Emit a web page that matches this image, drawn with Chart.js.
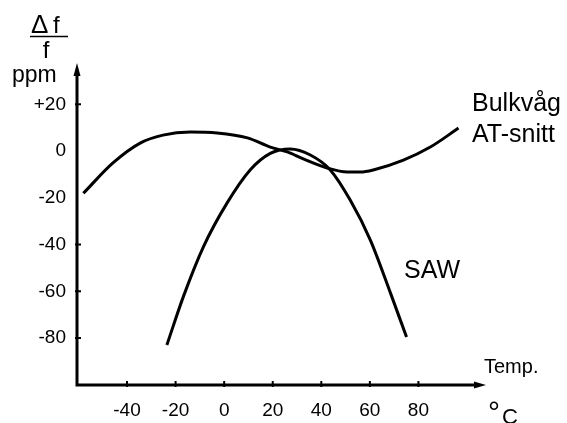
<!doctype html>
<html lang="sv">
<head>
<meta charset="utf-8">
<title>Temperaturberoende</title>
<style>
  * { margin: 0; padding: 0; }
  body { background: #fff; }
  canvas { display: block; }
</style>
</head>
<body>
<canvas id="myChart" width="567" height="423"></canvas>

<script src="https://cdn.jsdelivr.net/npm/chart.js"></script>
<script>
  // curve data (temp in °C, deviation in ppm)
  const bulkTemp = [-58, -45.8, -34.6, -25.2, -14, -2.9, 9.6, 19, 26, 32.6, 42.5, 50.7, 56.1, 61.4, 73.8, 84.9, 96.5]
  const bulkPpm = [-18.1, -5.1, 3.4, 6.8, 8.1, 7.7, 5.6, 1.7, -0.4, -3.4, -7.3, -9.0, -9.0, -8.1, -3.9, 1.7, 9.8]

  const sawTemp = [-23.6, -16.8, -8.5, 1.1, 10.7, 19, 27.2, 35.5, 43.7, 51.9, 60.2, 68.5, 75.1]
  const sawPpm = [-83, -62.3, -40.9, -22.4, -8.1, -1, 0.9, -1.7, -8.1, -21, -38.1, -60.8, -79.6]

  // ticks
  const xTickValues = [-40, -20, 0, 20, 40, 60, 80]
  const yTickValues = [20, 0, -20, -40, -60, -80]
  const yTickLabels = ['+20', '0', '-20', '-40', '-60', '-80']
  const yTickMarks = [20, -40, -60, -80]   // only these have a mark on the axis

  const FONT = "'Liberation Sans', Arial, sans-serif"

  const toPoints = (xs, ys) => xs.map((x, i) => ({ x: x, y: ys[i] }))

  // axes with arrows, tick marks and the free text
  const axesPlugin = {
    id: 'axesPlugin',
    afterDraw(chart) {
      const ctx = chart.ctx
      const area = chart.chartArea
      const xs = chart.scales.x
      const ys = chart.scales.y
      ctx.save()
      ctx.strokeStyle = '#000'
      ctx.fillStyle = '#000'
      ctx.lineWidth = 3
      ctx.lineCap = 'butt'

      // axis lines
      ctx.beginPath()
      ctx.moveTo(area.left, area.top + 8)
      ctx.lineTo(area.left, area.bottom)
      ctx.lineTo(area.right - 6, area.bottom)
      ctx.stroke()

      // arrow heads
      ctx.beginPath()
      ctx.moveTo(area.left, area.top - 2)
      ctx.lineTo(area.left - 3.5, area.top + 11)
      ctx.lineTo(area.left + 3.5, area.top + 11)
      ctx.closePath()
      ctx.fill()
      ctx.beginPath()
      ctx.moveTo(area.right + 2, area.bottom)
      ctx.lineTo(area.right - 10, area.bottom - 3.5)
      ctx.lineTo(area.right - 10, area.bottom + 3.5)
      ctx.closePath()
      ctx.fill()

      // tick marks
      ctx.lineWidth = 2
      xTickValues.forEach(v => {
        const px = xs.getPixelForValue(v)
        ctx.beginPath()
        ctx.moveTo(px, area.bottom - 4)
        ctx.lineTo(px, area.bottom + 2)
        ctx.stroke()
      })
      yTickMarks.forEach(v => {
        const py = ys.getPixelForValue(v)
        ctx.beginPath()
        ctx.moveTo(area.left - 2, py)
        ctx.lineTo(area.left + 4, py)
        ctx.stroke()
      })

      // texts
      ctx.textBaseline = 'alphabetic'
      ctx.textAlign = 'left'
      ctx.font = '26px ' + FONT
      ctx.fillText('\u0394', 31, 33)
      ctx.font = '24px ' + FONT
      ctx.fillText('f', 53, 33)
      ctx.lineWidth = 1.5
      ctx.beginPath()
      ctx.moveTo(30, 36.5)
      ctx.lineTo(68, 36.5)
      ctx.stroke()
      ctx.textAlign = 'center'
      ctx.fillText('f', 46, 58)
      ctx.textAlign = 'left'
      ctx.font = '23px ' + FONT
      ctx.fillText('ppm', 12, 82)

      ctx.font = '25px ' + FONT
      ctx.fillText('Bulkv\u00e5g', 472, 111)
      ctx.fillText('AT-snitt', 472, 142)
      ctx.fillText('SAW', 404, 278)

      ctx.font = '20px ' + FONT
      ctx.fillText('Temp.', 484, 373)

      ctx.font = '30px ' + FONT
      ctx.fillText('\u00b0', 488, 422)
      ctx.font = '22px ' + FONT
      ctx.fillText('C', 502, 424)
      ctx.restore()
    }
  }

  const data = {
    datasets: [
      {
        label: 'Bulkvåg AT-snitt',
        data: toPoints(bulkTemp, bulkPpm),
        borderColor: '#000',
        borderWidth: 3,
        pointRadius: 0,
        showLine: true,
        cubicInterpolationMode: 'monotone'
      },
      {
        label: 'SAW',
        data: toPoints(sawTemp, sawPpm),
        borderColor: '#000',
        borderWidth: 3,
        pointRadius: 0,
        showLine: true,
        cubicInterpolationMode: 'monotone'
      }
    ]
  }

  const config = {
    type: 'scatter',
    data: data,
    plugins: [axesPlugin],
    options: {
      responsive: false,
      animation: false,
      layout: {
        padding: { top: 65, right: 83, left: 0, bottom: 0 }
      },
      plugins: {
        legend: { display: false },
        tooltip: { enabled: false }
      },
      scales: {
        x: {
          type: 'linear',
          min: -60.6,
          max: 107,
          grid: { display: false, drawTicks: false },
          border: { display: false },
          afterBuildTicks: scale => { scale.ticks = xTickValues.map(v => ({ value: v })) },
          afterFit: scale => { scale.height = 38 },
          ticks: {
            autoSkip: false,
            maxRotation: 0,
            padding: 14,
            color: '#000',
            font: { family: FONT, size: 19 }
          }
        },
        y: {
          type: 'linear',
          min: -100.1,
          max: 36.8,
          grid: { display: false, drawTicks: false },
          border: { display: false },
          afterBuildTicks: scale => { scale.ticks = yTickValues.map(v => ({ value: v })) },
          afterFit: scale => { scale.width = 77 },
          ticks: {
            autoSkip: false,
            padding: 11,
            color: '#000',
            font: { family: FONT, size: 19 },
            callback: (value) => yTickLabels[yTickValues.indexOf(value)]
          }
        }
      }
    }
  }

  const myChart = new Chart(document.getElementById('myChart'), config)
</script>
</body>
</html>
